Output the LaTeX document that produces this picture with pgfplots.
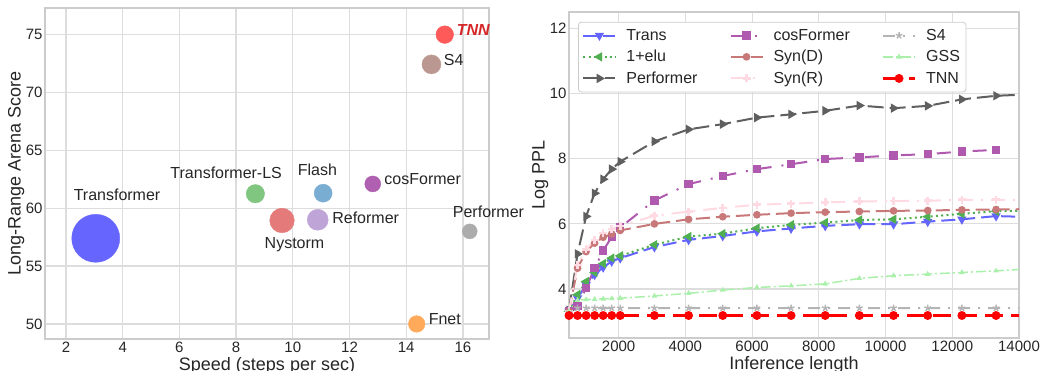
\documentclass[border=0pt]{standalone}
\usepackage{fontspec}
\setmainfont{Liberation Sans}
\usepackage{pgfplots}
\pgfplotsset{compat=1.18}
\usepackage{pgfplotstable}
\usetikzlibrary{plotmarks}

\definecolor{txt}{HTML}{262626}
\definecolor{gridc}{HTML}{DDDDDD}
\definecolor{framec}{HTML}{CCCCCC}
% scatter colours
\definecolor{bTrans}{RGB}{102,102,255}
\definecolor{bTLS}{RGB}{128,198,128}
\definecolor{bFlash}{RGB}{121,173,210}
\definecolor{bCos}{RGB}{176,96,176}
\definecolor{bNys}{RGB}{228,122,122}
\definecolor{bRef}{RGB}{191,164,215}
\definecolor{bPerf}{RGB}{172,172,172}
\definecolor{bFnet}{RGB}{255,170,90}
\definecolor{bS4}{RGB}{186,152,145}
\definecolor{bTNN}{RGB}{255,90,90}
\definecolor{tTNN}{RGB}{214,39,40}
% line colours
\definecolor{cTrans}{RGB}{100,100,255}
\definecolor{cElu}{RGB}{80,175,80}
\definecolor{cPerf}{RGB}{95,95,95}
\definecolor{cCos}{RGB}{175,90,175}
\definecolor{cSynD}{RGB}{200,120,120}
\definecolor{cSynR}{RGB}{255,218,226}
\definecolor{cS4}{RGB}{180,180,180}
\definecolor{cGSS}{RGB}{170,240,170}
\definecolor{cTNN}{RGB}{255,0,0}

\pgfplotsset{
  mystyle/.style={
    scale only axis,
    axis line style={draw=framec, line width=1.2bp},
    grid=major,
    major grid style={draw=gridc, line width=1.2bp},
    tick style={draw=none},
    major tick length=0pt,
    ticklabel style={font=\fontsize{15bp}{18bp}\selectfont, text=txt},
    xticklabel style={yshift=0bp},
    yticklabel style={xshift=1bp},
    label style={font=\fontsize{18bp}{21bp}\selectfont, text=txt},
    /pgf/number format/assume math mode=true,
    /pgf/number format/1000 sep={},
    scaled ticks=false,
  }
}

\pgfplotstableread{
x     trans elu  perf cos  synd synr sfour gss  tnn
512   3.32  3.32 3.35 3.32 3.32 3.32 3.30  3.30 3.19
768   3.72  3.83 5.08 3.49 4.64 4.74 3.42  3.66 3.19
1024  4.13  4.23 6.23 4.03 5.15 5.22 3.42  3.68 3.19
1280  4.44  4.51 6.94 4.64 5.41 5.51 3.42  3.69 3.19
1536  4.67  4.78 7.37 5.18 5.59 5.72 3.42  3.70 3.19
1792  4.85  4.95 7.68 5.60 5.69 5.84 3.42  3.71 3.19
2048  4.95  5.02 7.91 5.89 5.80 5.94 3.42  3.72 3.19
3072  5.29  5.36 8.53 6.72 6.00 6.25 3.42  3.79 3.19
4096  5.51  5.61 8.90 7.22 6.14 6.38 3.42  3.87 3.19
5120  5.63  5.70 9.06 7.47 6.22 6.49 3.42  3.97 3.19
6144  5.77  5.87 9.26 7.68 6.28 6.59 3.42  4.05 3.19
7168  5.86  5.97 9.36 7.83 6.33 6.62 3.42  4.10 3.19
8192  5.94  6.04 9.47 7.99 6.36 6.66 3.42  4.16 3.19
9216  5.99  6.12 9.63 8.04 6.38 6.69 3.42  4.33 3.19
10240 5.99  6.14 9.55 8.10 6.40 6.70 3.42  4.41 3.19
11264 6.07  6.22 9.62 8.14 6.41 6.71 3.42  4.46 3.19
12288 6.14  6.31 9.82 8.22 6.43 6.74 3.42  4.51 3.19
13312 6.24  6.39 9.93 8.27 6.44 6.74 3.42  4.56 3.19
14000 6.22  6.40 9.96 nan  6.45 6.74 3.42  4.60 3.19
}\ppl

\begin{document}
\begin{tikzpicture}
\useasboundingbox (0,0) rectangle (1048bp,371bp);

% ---------------- left: bubble chart ----------------
\begin{axis}[mystyle,
  at={(45bp,32bp)}, anchor=south west,
  width=444bp, height=331bp,
  xmin=1.26, xmax=16.92, ymin=48.7, ymax=77.3,
  xtick={2,4,...,16}, ytick={50,55,...,75},
  clip=false,
  xlabel={Speed (steps per sec)},
  ylabel={Long-Range Arena Score},
  xlabel style={at={(axis description cs:0.5,0)}, anchor=north, inner sep=0pt, yshift=-18bp},
  ylabel style={at={(axis description cs:-0.065,0.5)}, anchor=center, inner sep=0pt},
  nodes={font=\fontsize{16bp}{19bp}\selectfont, text=txt},
]
\addplot[only marks, mark=*, mark size=24bp, color=bTrans] coordinates {(3.05,57.4)};
\addplot[only marks, mark=*, mark size=9.2bp, color=bTLS] coordinates {(8.68,61.25)};
\addplot[only marks, mark=*, mark size=9bp, color=bFlash] coordinates {(11.07,61.3)};
\addplot[only marks, mark=*, mark size=8bp, color=bCos] coordinates {(12.82,62.1)};
\addplot[only marks, mark=*, mark size=12.3bp, color=bNys] coordinates {(9.62,58.94)};
\addplot[only marks, mark=*, mark size=10.5bp, color=bRef] coordinates {(10.88,59.0)};
\addplot[only marks, mark=*, mark size=7.5bp, color=bPerf] coordinates {(16.24,58.0)};
\addplot[only marks, mark=*, mark size=8.3bp, color=bFnet] coordinates {(14.37,50.0)};
\addplot[only marks, mark=*, mark size=9.5bp, color=bS4] coordinates {(14.89,72.43)};
\addplot[only marks, mark=*, mark size=8.8bp, color=bTNN] coordinates {(15.36,75.0)};

\node[anchor=center] at (axis cs:3.80,61.16) {Transformer};
\node[anchor=center] at (axis cs:7.65,63.06) {Transformer-LS};
\node[anchor=center] at (axis cs:10.87,63.32) {Flash};
\node[anchor=center] at (axis cs:14.58,62.54) {cosFormer};
\node[anchor=center] at (axis cs:12.57,59.17) {Reformer};
\node[anchor=west, inner sep=0pt] at (axis cs:15.64,59.69) {Performer};
\node[anchor=center] at (axis cs:10.06,56.83) {Nystorm};
\node[anchor=west, inner sep=0pt] at (axis cs:14.79,50.43) {Fnet};
\node[anchor=west, inner sep=0pt] at (axis cs:15.32,72.84) {S4};
\node[anchor=west, inner sep=0pt, text=tTNN] at (axis cs:15.78,75.43) {\textbf{\textit{TNN}}};
\end{axis}

% ---------------- right: extrapolation ----------------
\begin{axis}[mystyle,
  at={(569bp,33bp)}, anchor=south west,
  width=450bp, height=326bp,
  xmin=512, xmax=14000, ymin=2.5, ymax=12.5,
  xtick={2000,4000,...,14000}, ytick={4,6,...,12},
  xlabel={Inference length},
  ylabel={Log PPL},
  xlabel style={at={(axis description cs:0.5,0)}, anchor=north, inner sep=0pt, yshift=-18bp},
  ylabel style={at={(axis description cs:-0.064,0.5)}, anchor=center, inner sep=0pt},
  legend style={at={(0.02,0.97)}, anchor=north west, draw=framec, line width=0.8bp,
    rounded corners=3bp, fill=white,
    font=\fontsize{16bp}{19bp}\selectfont, text=txt,
    /tikz/every even column/.append style={column sep=30bp},
    /tikz/every odd column/.append style={column sep=8bp},
    inner xsep=4bp, inner ysep=5bp, row sep=4.5bp},
  legend columns=3,
  transpose legend,
  legend cell align=left,
  legend image code/.code={\draw[#1, mark indices={2}] plot coordinates {(0bp,0bp) (16bp,0bp) (32bp,0bp)};},
  mark indices={1,...,18},
]
\addplot[cTrans, line width=2bp, dash pattern=on 14bp off 6bp, mark=triangle*, mark size=3.5bp, mark options={solid, rotate=180}] table[x=x, y=trans] {\ppl};
\addlegendentry{Trans}
\addplot[cElu, line width=2bp, dash pattern=on 2bp off 3.3bp, mark=triangle*, mark size=3.5bp, mark options={solid, rotate=90}] table[x=x, y=elu] {\ppl};
\addlegendentry{1+elu}
\addplot[cPerf, line width=2bp, dash pattern=on 16bp off 6bp, mark=triangle*, mark size=3.5bp, mark options={solid, rotate=-90}] table[x=x, y=perf] {\ppl};
\addlegendentry{Performer}
\addplot[cCos, line width=2bp, dash pattern=on 14bp off 10bp on 2bp off 10bp, mark=square*, mark size=3.2bp, mark options={solid}] table[x=x, y=cos] {\ppl};
\addlegendentry{cosFormer}
\addplot[cSynD, line width=2bp, dash pattern=on 14bp off 6bp, mark=*, mark size=2.8bp, mark options={solid}] table[x=x, y=synd] {\ppl};
\addlegendentry{Syn(D)}
\addplot[cSynR, line width=2bp, dash pattern=on 14bp off 8bp on 2bp off 8bp, mark=+, mark size=4bp, mark options={solid, line width=2.6bp}] table[x=x, y=synr] {\ppl};
\addlegendentry{Syn(R)}
\addplot[cS4, line width=2bp, dash pattern=on 12bp off 8bp on 2bp off 8bp, mark=star, mark size=3.5bp, mark options={solid, line width=1.4bp}] table[x=x, y=sfour] {\ppl};
\addlegendentry{S4}
\addplot[cGSS, line width=1.5bp, dash pattern=on 10bp off 3bp on 2bp off 3bp, mark=triangle*, mark size=1.8bp, mark options={solid}] table[x=x, y=gss] {\ppl};
\addlegendentry{GSS}
\addplot[cTNN, line width=2.2bp, dash pattern=on 18bp off 8bp, mark=*, mark size=3.3bp, mark options={solid}] table[x=x, y=tnn] {\ppl};
\addlegendentry{TNN}
\end{axis}
\end{tikzpicture}
\end{document}
